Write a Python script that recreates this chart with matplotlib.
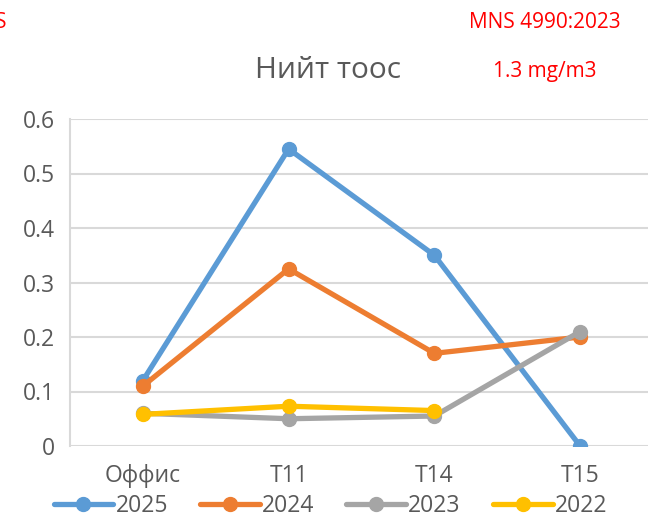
import matplotlib.pyplot as plt
import numpy as np

categories = ['Оффис', 'T11', 'T14', 'T15']
years = ['2025', '2024', '2023', '2022']
v2025 = [0.12, 0.545, 0.35, 0.0]
v2024 = [0.11, 0.325, 0.17, 0.20]
v2023 = [0.06, 0.05, 0.055, 0.21]
v2022 = [0.058, 0.073, 0.065, np.nan]
colors = ['#5b9bd5', '#ed7d31', '#a5a5a5', '#ffc000']

plt.rcParams['font.family'] = ['Open Sans', 'DejaVu Sans']
txt = '#595959'

fig = plt.figure(figsize=(6.48, 5.17), dpi=100)
# plot area runs past the right edge, as in the cropped original
ax = fig.add_axes([70 / 648, 1 - 446 / 517, 583 / 648, 327 / 517])

x = np.arange(len(categories))
for vals, c, lab in zip([v2025, v2024, v2023, v2022], colors, years):
    ax.plot(x, vals, color=c, lw=3.8, marker='o', ms=10, label=lab,
            solid_capstyle='round', zorder=3)

ax.set_xlim(-0.5, 3.5)
ax.set_ylim(0, 0.6)
ax.set_yticks(np.arange(0, 0.61, 0.1))
ax.set_yticklabels(['0', '0.1', '0.2', '0.3', '0.4', '0.5', '0.6'])
ax.set_xticks(x)
ax.set_xticklabels(categories)
ax.tick_params(length=0, labelsize=16.5, colors=txt, pad=11)
ax.tick_params(axis='x', pad=13)
ax.yaxis.grid(True, color='#d9d9d9', lw=1.5)
for s in ['top', 'right', 'bottom']:
    ax.spines[s].set_visible(False)
ax.spines['left'].set_color('#d9d9d9')
ax.spines['left'].set_linewidth(1.5)

fig.text(328 / 648, 1 - 70 / 517, 'Нийт тоос', ha='center', va='center',
         fontsize=21.5, color=txt)
fig.text(545 / 648, 1 - 22 / 517, 'MNS 4990:2023', ha='center', va='center',
         fontsize=15, color='red')
fig.text(545 / 648, 1 - 72 / 517, '1.3 mg/m3', ha='center', va='center',
         fontsize=15, color='red')
fig.text(0.01, 1 - 22 / 517, 'S', ha='right', va='center',
         fontsize=15, color='red')

fig.legend(loc='center', bbox_to_anchor=(0.51, 1 - 506 / 517), ncol=4,
           frameon=False, fontsize=16.5, handlelength=2.6, handletextpad=0.1,
           columnspacing=1.4, labelcolor=txt)

fig.savefig('out.png', dpi=100)
